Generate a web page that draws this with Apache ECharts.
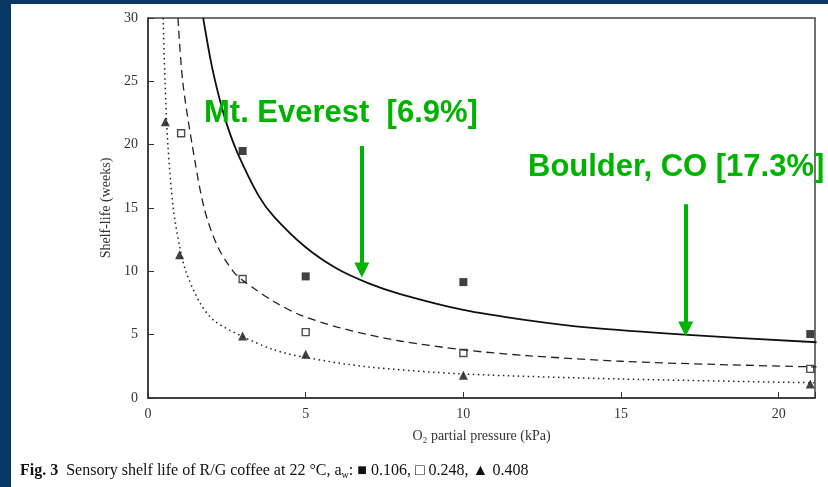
<!DOCTYPE html>
<html>
<head>
<meta charset="utf-8">
<script src="https://cdn.jsdelivr.net/npm/echarts@6/dist/echarts.min.js"></script>
<style>
  html, body { margin: 0; padding: 0; background: #fff; }
  #chart { width: 828px; height: 487px; }
</style>
</head>
<body>
<div id="chart"></div>
<script>
// measured points, one list per water activity
var aw106 = [[3, 19.5], [5, 9.6], [10, 9.15], [21, 5.05]];
var aw248 = [[1.05, 20.9], [3, 9.4], [5, 5.2], [10, 3.55], [21, 2.3]];
var aw408 = [[0.55, 21.8], [1, 11.3], [3, 4.9], [5, 3.45], [10, 1.8], [21, 1.1]];

// fitted curves
var fit106 = [[1.75, 30], [2, 26.5], [2.25, 23.8], [2.5, 21.6], [2.83, 19.4], [3.5, 16], [4, 14.3],
  [5, 11.9], [6, 10.2], [7, 9.05], [8, 8.2], [10, 6.95], [12, 6.15], [14, 5.55], [17, 5.0], [21.2, 4.4]];
var fit248 = [[0.95, 30], [1.1, 25], [1.4, 20], [1.78, 15], [2.2, 12], [2.7, 10], [3, 9.3], [3.33, 8.7],
  [4, 7.6], [4.83, 6.55], [6, 5.6], [7, 5.0], [8, 4.5], [10, 3.8], [12, 3.35], [15, 2.9], [18, 2.65], [21.2, 2.45]];
var fit408 = [[0.48, 30], [0.54, 25], [0.63, 20], [0.8, 15], [1.0, 12], [1.2, 10], [1.65, 7.5], [2.1, 6.1],
  [3, 4.85], [4, 3.8], [5, 3.2], [7, 2.45], [10, 1.9], [15, 1.5], [21.2, 1.2]];

var xTicks = [0, 5, 10, 15, 20];
var yTicks = [0, 5, 10, 15, 20, 25, 30];

var serif = '"Liberation Serif", "DejaVu Serif", serif';
var green = '#00b300';

var myChart = echarts.init(document.getElementById('chart'));
myChart.setOption({
  backgroundColor: '#ffffff',
  animation: false,
  grid: {
    left: 148,
    right: 13,
    top: 18,
    bottom: 89,
    show: true,
    borderColor: '#444',
    borderWidth: 1.5
  },
  xAxis: {
    type: 'value',
    min: 0,
    max: 21.15,
    interval: 5,
    splitLine: { show: false },
    axisLine: { lineStyle: { color: '#333', width: 1.5 } },
    axisTick: { inside: true, length: 6, lineStyle: { color: '#333' } },
    axisLabel: {
      color: '#333',
      fontFamily: serif,
      fontSize: 14,
      margin: 9,
      formatter: function (v) { return xTicks.indexOf(v) >= 0 ? String(v) : ''; }
    },
    name: 'O₂ partial pressure (kPa)',
    nameLocation: 'middle',
    nameGap: 31,
    nameTextStyle: { color: '#333', fontFamily: serif, fontSize: 14 }
  },
  yAxis: {
    type: 'value',
    min: 0,
    max: 30,
    interval: 5,
    splitLine: { show: false },
    axisLine: { lineStyle: { color: '#333', width: 1.5 } },
    axisTick: { inside: true, length: 6, lineStyle: { color: '#333' } },
    axisLabel: {
      color: '#333',
      fontFamily: serif,
      fontSize: 14,
      margin: 10,
      formatter: function (v) { return yTicks.indexOf(v) >= 0 ? String(v) : ''; }
    },
    name: 'Shelf-life (weeks)',
    nameLocation: 'middle',
    nameGap: 35,
    nameTextStyle: { color: '#333', fontFamily: serif, fontSize: 14 }
  },
  series: [
    {
      name: 'fit 0.106',
      type: 'line',
      data: fit106,
      smooth: 0.3,
      showSymbol: false,
      lineStyle: { color: '#111', width: 1.8 },
      markLine: {
        silent: true,
        symbol: ['none', 'triangle'],
        symbolSize: [15, 15],
        label: { show: false },
        lineStyle: { color: green, width: 4, type: 'solid' },
        data: [
          [{ coord: [6.78, 19.9] }, { coord: [6.78, 10.1] }],
          [{ coord: [17.05, 15.3] }, { coord: [17.05, 5.45] }]
        ]
      }
    },
    {
      name: 'fit 0.248',
      type: 'line',
      data: fit248,
      smooth: 0.3,
      showSymbol: false,
      lineStyle: { color: '#222', width: 1.3, type: [8, 5] }
    },
    {
      name: 'fit 0.408',
      type: 'line',
      data: fit408,
      smooth: 0.3,
      showSymbol: false,
      lineStyle: { color: '#222', width: 1.5, type: [1.5, 3.5] }
    },
    {
      name: '0.106',
      type: 'scatter',
      data: aw106,
      symbol: 'rect',
      symbolSize: 8,
      itemStyle: { color: '#111' }
    },
    {
      name: '0.248',
      type: 'scatter',
      data: aw248,
      symbol: 'rect',
      symbolSize: 7,
      itemStyle: { color: '#fff', borderColor: '#222', borderWidth: 1.4 }
    },
    {
      name: '0.408',
      type: 'scatter',
      data: aw408,
      symbol: 'triangle',
      symbolSize: 9,
      itemStyle: { color: '#111' }
    }
  ],
  graphic: [
    // navy frame of the slide
    { type: 'rect', left: 0, top: 0, shape: { width: 828, height: 4 }, style: { fill: '#0a3864' }, z: 100 },
    { type: 'rect', left: 0, top: 0, shape: { width: 11, height: 487 }, style: { fill: '#0a3864' }, z: 100 },
    {
      type: 'text', left: 204, top: 98, z: 50,
      style: {
        text: 'Mt. Everest  [6.9%]',
        fill: green,
        font: 'bold 31px "Liberation Sans", Arial, sans-serif'
      }
    },
    {
      type: 'text', left: 528, top: 152, z: 50,
      style: {
        text: 'Boulder, CO [17.3%]',
        fill: green,
        font: 'bold 31px "Liberation Sans", Arial, sans-serif'
      }
    },
    {
      type: 'text', left: 20, top: 462, z: 50,
      style: {
        text: '{b|Fig. 3}  Sensory shelf life of R/G coffee at 22 °C, a{sub|w}: ■ 0.106, □ 0.248, ▲ 0.408',
        fill: '#111',
        fontFamily: serif,
        fontSize: 16,
        lineHeight: 18,
        rich: {
          b: { fontWeight: 'bold', fontFamily: serif, fontSize: 16, fill: '#111', lineHeight: 18 },
          sub: { fontFamily: serif, fontSize: 10, fill: '#111', lineHeight: 10, verticalAlign: 'bottom' }
        }
      }
    }
  ]
});
</script>
</body>
</html>
